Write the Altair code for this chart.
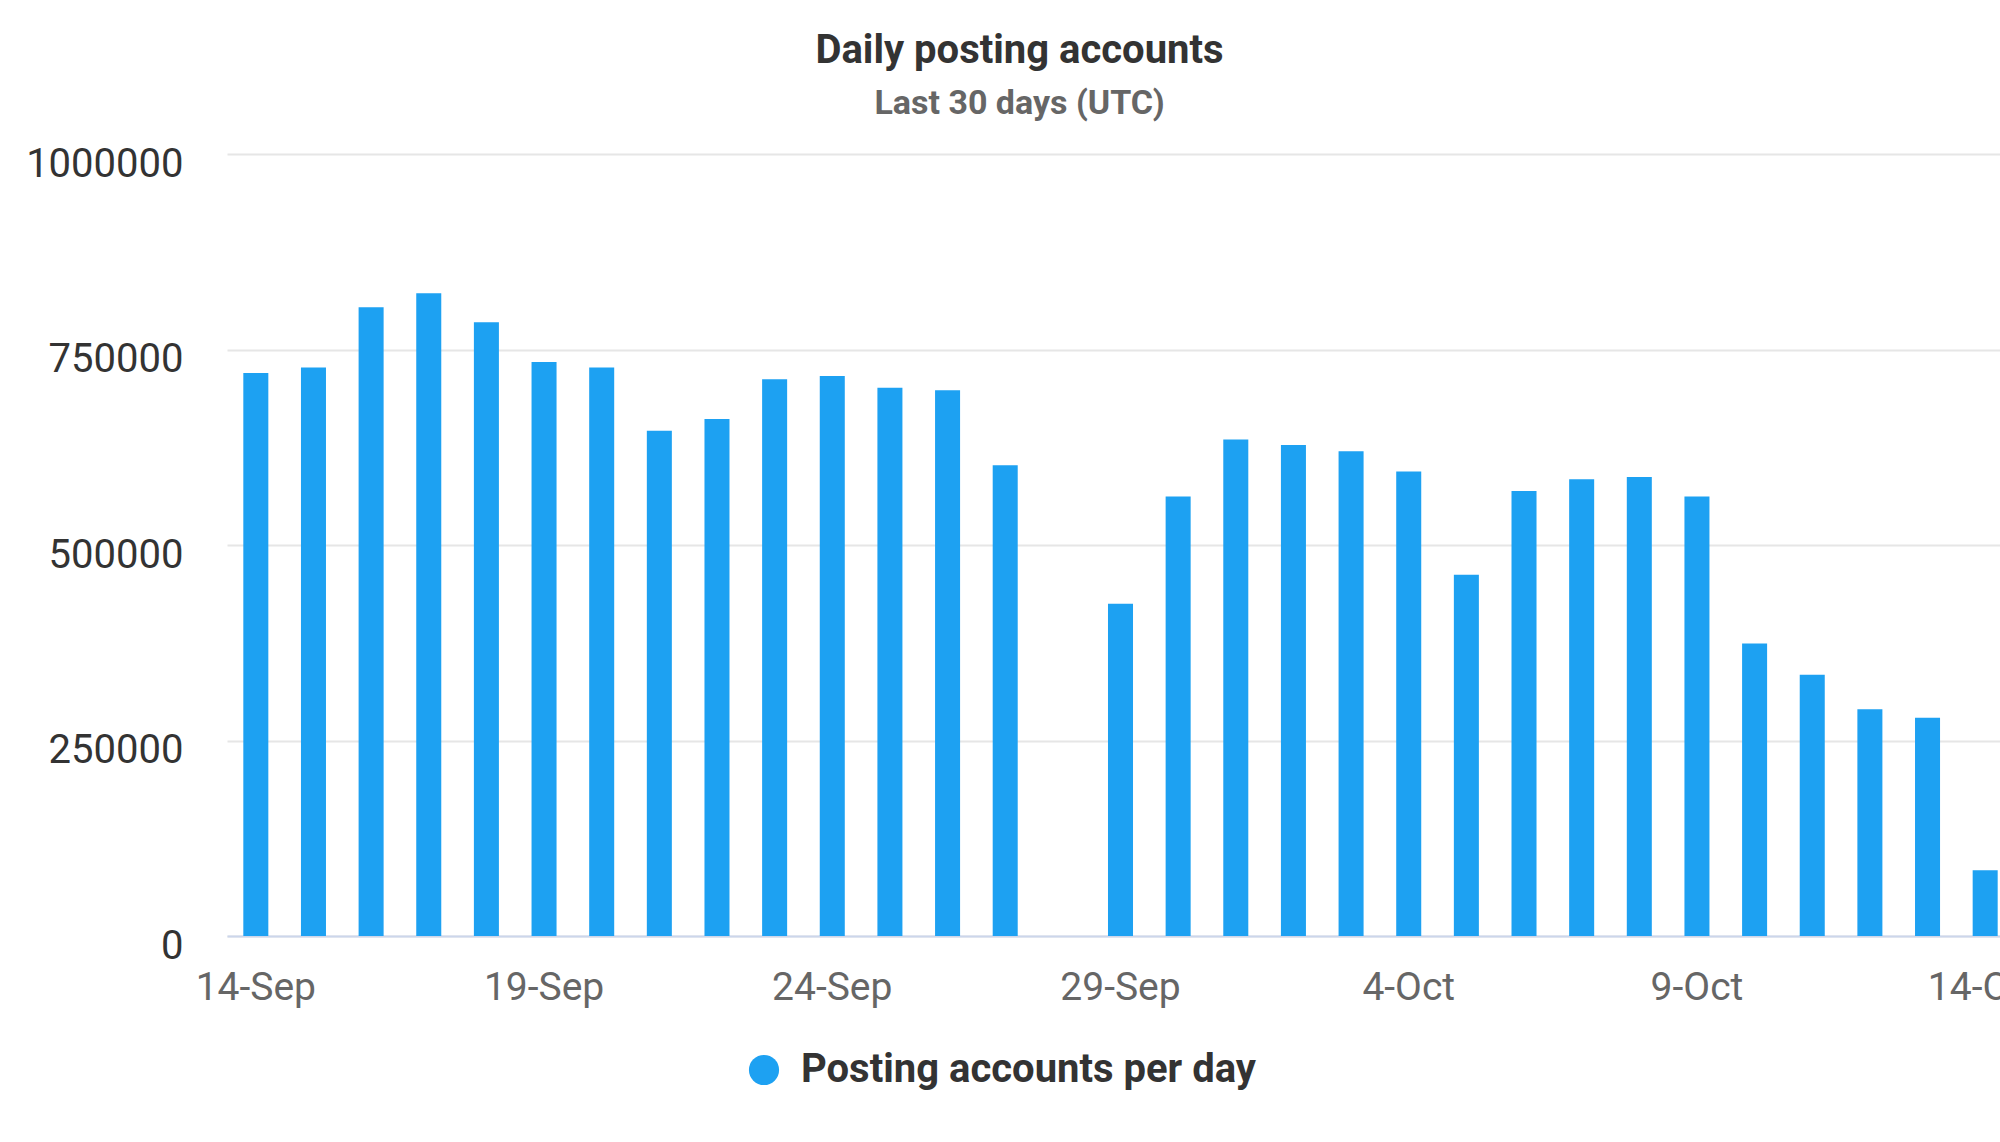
import altair as alt
import pandas as pd

# ---- data ----
days = [
    "14-Sep", "15-Sep", "16-Sep", "17-Sep", "18-Sep", "19-Sep", "20-Sep", "21-Sep",
    "22-Sep", "23-Sep", "24-Sep", "25-Sep", "26-Sep", "27-Sep", "28-Sep", "29-Sep",
    "30-Sep", "1-Oct", "2-Oct", "3-Oct", "4-Oct", "5-Oct", "6-Oct", "7-Oct",
    "8-Oct", "9-Oct", "10-Oct", "11-Oct", "12-Oct", "13-Oct", "14-Oct",
]
accounts = [
    720000, 727000, 804000, 822000, 785000, 734000, 727000, 646000,
    661000, 712000, 716000, 701000, 698000, 602000, None, 425000,
    562000, 635000, 628000, 620000, 594000, 462000, 569000, 584000,
    587000, 562000, 374000, 334000, 290000, 279000, 84000,
]
tick_labels = ["14-Sep", "19-Sep", "24-Sep", "29-Sep", "4-Oct", "9-Oct", "14-Oct"]
y_ticks = [0, 250000, 500000, 750000, 1000000]
series_name = "Posting accounts per day"

df = pd.DataFrame({"day": days, "accounts": accounts, "series": series_name})

FONT = "Roboto"

chart = (
    alt.Chart(df)
    .mark_bar(clip=False)
    .encode(
        x=alt.X(
            "day:N",
            sort=days,
            scale=alt.Scale(domain=days, range=[0, 1787], paddingInner=0.566, paddingOuter=0.283),
            axis=alt.Axis(
                title=None,
                values=tick_labels,
                labelAngle=0,
                labelFont=FONT,
                labelFontSize=39,
                labelColor="#666666",
                labelBaseline="alphabetic",
                labelPadding=63,
                ticks=False,
                tickSize=0,
                domainColor="#ccd6eb",
                domainWidth=2,
                grid=False,
                labelOverlap=False,
                labelBound=False,
            ),
        ),
        y=alt.Y(
            "accounts:Q",
            scale=alt.Scale(domain=[0, 1000000], nice=False, zero=True),
            axis=alt.Axis(
                title=None,
                values=y_ticks,
                format="d",
                labelFont=FONT,
                labelFontSize=40,
                labelColor="#333333",
                labelBaseline="alphabetic",
                labelOffset=22,
                labelPadding=44,
                ticks=False,
                tickSize=0,
                domain=False,
                gridColor="#e6e6e6",
                gridWidth=2,
            ),
        ),
        color=alt.Color(
            "series:N",
            scale=alt.Scale(domain=[series_name], range=["#1da1f2"]),
            legend=alt.Legend(
                title=None,
                orient="none",
                legendX=517,
                legendY=896,
                symbolType="circle",
                symbolSize=908,
                symbolStrokeWidth=0,
                labelFont=FONT,
                labelFontSize=40,
                labelFontWeight="bold",
                labelColor="#333333",
                labelOffset=17,
                labelLimit=1000,
                padding=0,
            ),
        ),
    )
    .properties(
        width=1773,
        height=782,
        background="white",
        title=alt.TitleParams(
            text="Daily posting accounts",
            subtitle="Last 30 days (UTC)",
            anchor="middle",
            font=FONT,
            fontSize=40,
            fontWeight="bold",
            color="#333333",
            subtitleFont=FONT,
            subtitleFontSize=34,
            subtitleFontWeight="bold",
            subtitleColor="#666666",
            subtitlePadding=16,
            dx=-94,
            offset=23,
        ),
        autosize=alt.AutoSizeParams(type="none"),
        padding={"left": 227, "top": 154, "right": 0, "bottom": 206},
    )
    .configure_view(strokeWidth=0, stroke="transparent")
)

chart.save("out.html", embed_options={"renderer": "svg", "actions": False})
